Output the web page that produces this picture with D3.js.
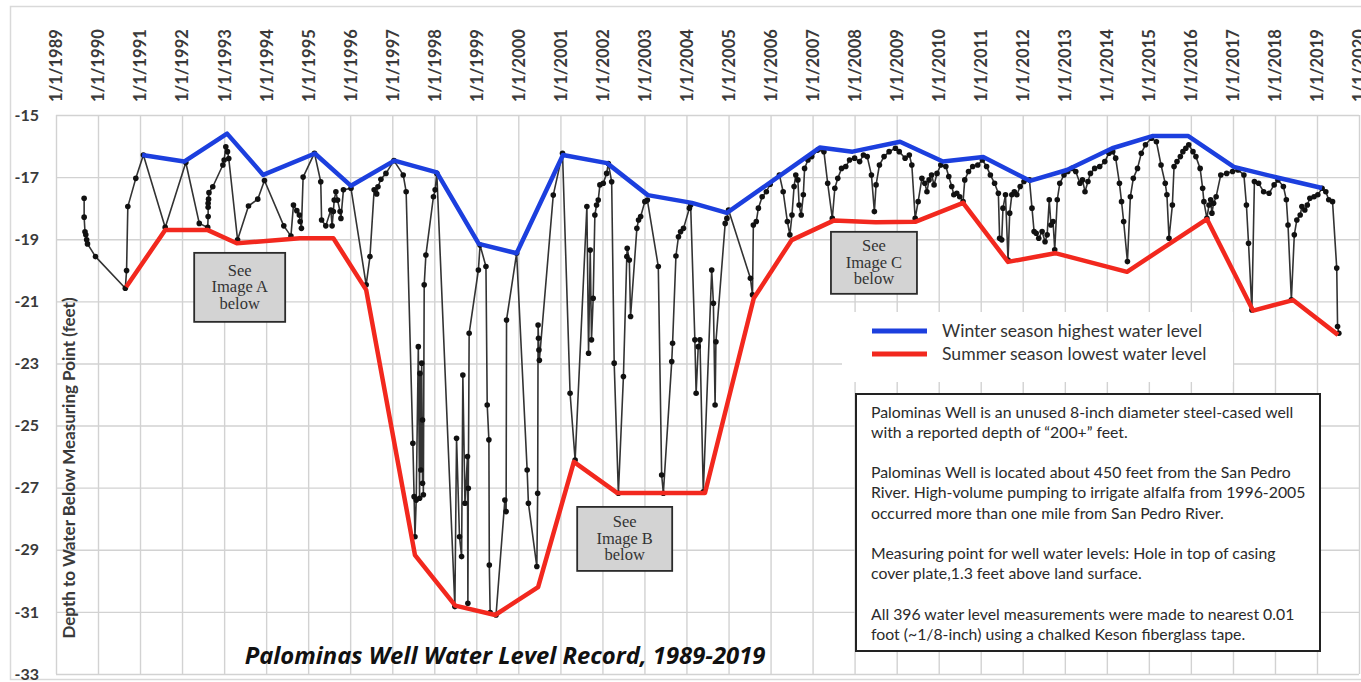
<!DOCTYPE html>
<html>
<head>
<meta charset="utf-8">
<script src="https://cdnjs.cloudflare.com/ajax/libs/d3/7.8.5/d3.min.js"></script>
<style>
  html, body { margin: 0; padding: 0; background: #fff; }
  svg { display: block; }
</style>
</head>
<body>
<svg id="chart" width="1361" height="682"></svg>
<script>
// ---------------- DATA ----------------
const tickYears = [1989,1990,1991,1992,1993,1994,1995,1996,1997,1998,1999,2000,2001,2002,2003,2004,2005,2006,2007,2008,2009,2010,2011,2012,2013,2014,2015,2016,2017,2018,2019,2020];
const depthTicks = [-15,-17,-19,-21,-23,-25,-27,-29,-31,-33];

// measured water levels (decimal year, feet)
const measYears = [
 1989.67,1989.67,1989.69,1989.71,1989.73,1989.75,1989.94,1990.65,1990.68,1990.71,1990.90,1991.08,1991.60,1992.09,1992.41,1992.61,1992.62,1992.62,1992.62,1992.63,1992.64,1992.73,1992.97,1993.00,1993.04,1993.08,1993.11,1993.32,1993.58,1993.80,1993.96,1994.42,1994.59,1994.65,1994.73,1994.79,1994.81,1994.84,1994.88,1995.15,1995.30,1995.32,1995.42,1995.54,1995.57,1995.60,1995.62,1995.66,1995.70,1995.76,1995.78,1995.84,1996.02,1996.38,1996.47,1996.57,1996.63,1996.66,1996.73,1996.85,1997.04,
 1997.26,1997.33,1997.49,1997.52,1997.54,1997.57,1997.62,1997.65,1997.66,1997.68,1997.70,1997.72,1997.72,1997.74,1997.76,1997.80,1997.98,1998.02,1998.06,1998.49,1998.53,1998.60,1998.65,1998.68,1998.73,1998.79,1998.80,1998.81,1998.83,1999.05,1999.09,1999.23,1999.26,1999.30,1999.31,1999.33,1999.47,1999.68,1999.71,1999.72,1999.96,2000.21,2000.24,2000.44,2000.46,2000.47,2000.48,2000.49,2000.50,2000.83,2001.05,2001.23,2001.35,2001.63,2001.67,2001.71,2001.74,2001.78,2001.82,2001.86,2001.90,2001.94,2002.02,2002.10,2002.14,2002.22,2002.28,2002.38,2002.50,2002.58,2002.59,2002.64,2002.67,2002.82,2002.86,2002.91,2003.01,2003.07,2003.33,2003.41,2003.45,2003.65,2003.67,2003.75,2003.81,2003.86,2003.93,2004.07,2004.10,2004.20,2004.23,2004.28,2004.32,2004.40,2004.60,2004.64,2004.68,2004.70,2004.92,2004.96,2005.00,
 2005.52,2005.57,2005.59,2005.66,2005.71,2005.80,2005.90,2005.99,
 2006.21,2006.30,2006.40,2006.46,2006.51,2006.56,2006.60,2006.65,2006.68,2006.73,2006.78,2006.81,2006.89,2006.98,
 2007.12,2007.27,2007.36,2007.47,2007.53,2007.60,2007.69,2007.79,2007.88,
 2008.00,2008.12,2008.21,2008.30,2008.40,2008.47,2008.51,2008.59,2008.70,2008.82,2008.97,
 2009.06,2009.20,2009.30,2009.36,2009.44,2009.51,2009.60,2009.67,2009.72,2009.77,2009.83,2009.89,2009.96,
 2010.05,2010.17,2010.24,2010.31,2010.36,2010.43,2010.50,2010.58,2010.62,2010.71,2010.81,2010.93,
 2011.04,2011.14,2011.23,2011.33,2011.42,2011.45,2011.50,2011.53,2011.59,2011.65,2011.69,2011.74,2011.80,2011.86,2011.94,
 2012.03,2012.16,2012.22,2012.27,2012.32,2012.38,2012.46,2012.53,2012.58,2012.63,2012.67,2012.72,2012.76,2012.82,2012.88,2012.98,
 2013.07,2013.17,2013.26,2013.36,2013.42,2013.48,2013.55,2013.61,2013.71,2013.83,2013.95,
 2014.05,2014.14,2014.21,2014.30,2014.35,2014.40,2014.49,2014.56,2014.63,2014.73,2014.82,2014.92,
 2015.06,2015.18,2015.29,2015.39,2015.43,2015.48,2015.56,2015.60,2015.67,2015.75,2015.81,2015.88,2015.95,
 2016.05,2016.12,2016.22,2016.28,2016.31,2016.38,2016.43,2016.47,2016.50,2016.54,2016.60,2016.71,2016.85,2016.99,
 2017.12,2017.26,2017.32,2017.37,2017.45,2017.51,2017.61,2017.73,2017.86,2017.98,
 2018.07,2018.20,2018.27,2018.31,2018.39,2018.46,2018.52,2018.60,2018.64,2018.71,2018.77,2018.83,2018.93,
 2019.02,2019.12,2019.21,2019.28,2019.37,2019.47,2019.49,2019.52
];
const measDepths = [
 -17.68,-18.29,-18.76,-18.86,-19.02,-19.15,-19.56,-20.58,-20.01,-17.95,-17.04,-16.29,-18.62,-16.53,-18.49,-18.62,-18.27,-17.97,-17.84,-17.71,-17.50,-17.31,-16.61,-16.45,-16.02,-16.18,-16.40,-19.02,-17.93,-17.71,-17.11,-18.57,-18.90,-17.90,-18.08,-18.22,-18.43,-18.65,-17.00,-16.23,-17.15,-18.38,-18.57,-18.06,-18.57,-18.11,-17.74,-17.47,-17.74,-18.11,-18.33,-17.41,-17.36,-20.47,-19.56,-17.41,-17.54,-17.31,-17.07,-16.88,-16.47,
 -16.93,-17.47,-25.57,-27.29,-28.58,-27.40,-22.46,-27.34,-23.32,-26.43,-22.99,-26.86,-24.82,-27.23,-20.47,-19.51,-17.63,-17.41,-16.88,-30.83,-25.41,-28.58,-29.22,-23.37,-27.50,-26.00,-30.72,-27.02,-22.03,-19.99,-19.19,-19.88,-24.34,-25.46,-29.49,-31.02,-31.10,-27.40,-27.77,-21.60,-19.45,-26.43,-27.50,-29.54,-27.18,-21.76,-22.19,-22.57,-22.90,-17.58,-16.23,-23.96,-26.11,-17.95,-22.67,-19.35,-22.24,-20.90,-18.22,-17.90,-17.74,-17.25,-17.20,-16.88,-16.56,-17.15,-22.99,-27.18,-23.42,-19.56,-19.29,-19.67,-21.49,-18.65,-18.38,-18.27,-17.79,-17.74,-19.88,-26.59,-27.18,-22.94,-22.35,-19.54,-18.92,-18.76,-18.65,-18.00,-17.90,-22.24,-23.96,-22.46,-22.24,-27.13,-19.99,-21.06,-24.34,-22.30,-18.49,-18.33,-18.06,
 -20.26,-20.79,-18.54,-18.43,-18.00,-17.63,-17.47,-17.23,
 -16.93,-17.47,-18.43,-18.86,-18.22,-17.30,-16.93,-17.09,-17.90,-18.22,-17.57,-16.72,-16.45,-16.34,
 -16.13,-16.18,-17.20,-18.33,-17.36,-17.04,-16.72,-16.66,-16.45,
 -16.39,-16.50,-16.29,-16.34,-16.93,-18.11,-17.25,-16.61,-16.34,-16.18,-16.07,
 -16.18,-16.39,-16.29,-16.61,-18.33,-17.79,-17.04,-17.20,-17.47,-17.09,-16.93,-17.25,-16.88,
 -16.61,-16.66,-16.98,-17.30,-17.57,-17.52,-17.63,-17.79,-17.09,-16.82,-16.66,-16.61,
 -16.45,-16.66,-16.93,-17.20,-17.52,-18.97,-19.02,-18.00,-17.57,-19.67,-18.16,-17.57,-17.47,-17.57,-17.30,
 -17.14,-17.09,-18.00,-18.75,-18.81,-18.97,-18.75,-19.08,-18.86,-17.73,-18.54,-18.43,-19.34,-17.73,-17.20,-16.93,
 -16.82,-16.72,-16.82,-17.20,-17.09,-17.47,-17.14,-16.88,-16.72,-16.66,-16.50,
 -16.23,-16.18,-16.39,-17.20,-17.79,-18.43,-19.72,-17.63,-17.04,-16.72,-16.23,-15.96,
 -15.75,-15.86,-16.61,-17.20,-17.57,-18.97,-17.90,-16.66,-16.50,-16.34,-16.18,-16.07,-15.96,
 -16.18,-16.34,-16.72,-17.36,-17.79,-18.33,-17.90,-17.73,-18.16,-17.84,-17.63,-16.93,-16.88,-16.82,
 -16.77,-16.93,-17.90,-19.13,-21.28,-17.14,-17.20,-17.47,-17.52,-17.25,
 -17.09,-17.30,-17.73,-18.54,-20.95,-18.86,-18.38,-18.22,-17.95,-18.06,-17.90,-17.68,-17.63,
 -17.57,-17.36,-17.47,-17.73,-17.79,-19.93,-21.81,-22.03
];

// winter season highest water level
const winterYears  = [1991.05,1992.05,1993.07,1993.93,1995.16,1996.02,1997.05,1998.06,1999.06,1999.96,2001.06,2002.11,2003.08,2004.13,2004.96,2007.17,2007.95,2009.08,2010.10,2011.06,2012.17,2013.05,2014.13,2015.08,2015.94,2017.02,2018.10,2019.12];
const winterDepths = [-16.29,-16.50,-15.60,-16.93,-16.24,-17.28,-16.47,-16.85,-19.15,-19.45,-16.29,-16.55,-17.58,-17.83,-18.15,-16.05,-16.18,-15.86,-16.50,-16.35,-17.12,-16.77,-16.07,-15.68,-15.68,-16.67,-17.03,-17.35];

// summer season lowest water level
const summerYears  = [1990.67,1991.60,1992.60,1993.30,1994.80,1995.60,1996.38,1997.54,1998.50,1999.45,2000.47,2001.32,2002.35,2003.45,2004.44,2005.60,2006.50,2007.50,2008.50,2009.44,2010.58,2011.65,2012.77,2014.48,2016.38,2017.48,2018.43,2019.50];
const summerDepths = [-20.54,-18.70,-18.70,-19.13,-18.97,-18.97,-20.63,-29.17,-30.80,-31.10,-30.20,-26.17,-27.17,-27.17,-27.17,-20.90,-19.03,-18.40,-18.45,-18.44,-17.83,-19.73,-19.45,-20.05,-18.35,-21.30,-20.96,-22.08];

const legendLabels = ["Winter season highest water level","Summer season lowest water level"];
const chartTitle = "Palominas Well Water Level Record, 1989-2019";
const yTitle = "Depth to Water Below Measuring Point (feet)";
const noteLines = [
 "Palominas Well is an unused 8-inch diameter steel-cased well",
 "with a reported depth of \u201C200+\u201D feet.",
 "",
 "Palominas Well is located about 450 feet from the San Pedro",
 "River. High-volume pumping to irrigate alfalfa from 1996-2005",
 "occurred more than one mile from San Pedro River.",
 "",
 "Measuring point for well water levels: Hole in top of casing",
 "cover plate,1.3 feet above land surface.",
 "",
 "All 396 water level measurements were made to nearest 0.01",
 "foot (~1/8-inch) using a chalked Keson fiberglass tape."
];
const calloutTexts = [["See","Image A","below"],["See","Image B","below"],["See","Image C","below"]];

// ---------------- DRAWING ----------------
const svg = d3.select("#chart");
const W = 1361;
const pL = 56, pR = 1359, pT = 115, pB = 674;
const FONT = "Lato, 'Open Sans', sans-serif";

function toDate(dy){
  const yr = Math.floor(dy);
  const start = new Date(yr,0,1), end = new Date(yr+1,0,1);
  return new Date(start.getTime() + (dy - yr) * (end - start));
}

const x = d3.scaleTime().domain([new Date(1989,0,1), new Date(2020,0,1)]).range([pL, pR]);
const y = d3.scaleLinear().domain([-33,-15]).range([pB, pT]);

// outer frame
svg.append("rect").attr("x",10.5).attr("y",6.5).attr("width",W).attr("height",673)
  .attr("fill","#fff").attr("stroke","#d9d9d9").attr("stroke-width",1.5);

const gridColor = "#d2d2d2";
svg.append("g").attr("transform",`translate(0,${pB})`)
  .call(d3.axisBottom(x).tickValues(tickYears.map(v=>new Date(v,0,1))).tickSize(-(pB-pT)).tickFormat(""))
  .call(g=>g.select(".domain").remove())
  .call(g=>g.selectAll("line").attr("stroke",gridColor).attr("stroke-width",1.4));
svg.append("g").attr("transform",`translate(${pL},0)`)
  .call(d3.axisLeft(y).tickValues(depthTicks).tickSize(-(pR-pL)).tickFormat(""))
  .call(g=>g.select(".domain").remove())
  .call(g=>g.selectAll("line").attr("stroke",gridColor).attr("stroke-width",1.4));

// top date labels
const xa = svg.append("g").attr("transform","translate(0,102)")
  .call(d3.axisTop(x).tickValues(tickYears.map(v=>new Date(v,0,1))).tickSize(0).tickPadding(0)
    .tickFormat(d3.timeFormat("%-m/%-d/%Y")));
xa.select(".domain").remove();
xa.selectAll("text")
  .attr("transform","rotate(-90)")
  .attr("x",0).attr("y",0).attr("dy","0.36em")
  .attr("text-anchor","start")
  .attr("fill","#3a3a3a")
  .style("font-family",FONT)
  .style("font-weight","700").style("font-size","16.5px");

// left depth labels
const ya = svg.append("g").attr("transform","translate(39,0)")
  .call(d3.axisLeft(y).tickValues(depthTicks).tickSize(0).tickPadding(0).tickFormat(d=>String(d)));
ya.select(".domain").remove();
ya.selectAll("text").attr("fill","#3a3a3a")
  .style("font-family",FONT)
  .style("font-weight","700").style("font-size","16px");

// y title
svg.append("text").attr("transform","translate(69,468) rotate(-90)")
  .attr("text-anchor","middle").attr("dy","0.35em")
  .attr("fill","#3a3a3a")
  .style("font-family",FONT)
  .style("font-weight","700").style("font-size","17px")
  .text(yTitle);

// callout boxes (layout: centre year, centre depth, width, height)
const calloutLayout = [
  {year:1993.37, depth:-20.55, w:91, h:69},
  {year:2002.53, depth:-28.65, w:95, h:64},
  {year:2008.46, depth:-19.76, w:86, h:62}
];
calloutTexts.forEach((lines,k)=>{
  const c = calloutLayout[k];
  const cx = x(toDate(c.year)), cy = y(c.depth);
  svg.append("rect").attr("x",cx-c.w/2).attr("y",cy-c.h/2).attr("width",c.w).attr("height",c.h)
    .attr("fill","#d3d3d3").attr("stroke","#2b2b2b").attr("stroke-width",1.8);
  lines.forEach((t,i)=>{
    svg.append("text").attr("x",cx).attr("y",cy-1+(i-1)*16.5).attr("dy","0.35em")
      .attr("text-anchor","middle").attr("fill","#333")
      .style("font-family","'Liberation Serif', 'DejaVu Serif', serif").style("font-size","16.5px")
      .text(t);
  });
});

// measurement series
const n = Math.min(measYears.length, measDepths.length);
const meas = d3.range(n).map(i=>({d:toDate(measYears[i]), v:measDepths[i]}));
const line = d3.line().x(p=>x(p.d)).y(p=>y(p.v));
svg.append("path").datum(meas).attr("d",line).attr("fill","none")
  .attr("stroke","#333").attr("stroke-width",1.6).attr("stroke-linejoin","round");
svg.append("g").selectAll("circle").data(meas).join("circle")
  .attr("cx",p=>x(p.d)).attr("cy",p=>y(p.v)).attr("r",2.8).attr("fill","#111");

const blue = "#1c3fde", red = "#f2281e";
const winter = winterYears.map((v,i)=>({d:toDate(v), v:winterDepths[i]}));
const summer = summerYears.map((v,i)=>({d:toDate(v), v:summerDepths[i]}));
svg.append("path").datum(summer).attr("d",line).attr("fill","none")
  .attr("stroke",red).attr("stroke-width",4.5).attr("stroke-linejoin","round");
svg.append("path").datum(winter).attr("d",line).attr("fill","none")
  .attr("stroke",blue).attr("stroke-width",4.5).attr("stroke-linejoin","round");

// legend
const lg = svg.append("g");
lg.append("rect").attr("x",842).attr("y",312).attr("width",391).attr("height",70).attr("fill","#fff");
[[blue,331],[red,354]].forEach(([c,ly],i)=>{
  lg.append("line").attr("x1",872).attr("x2",927).attr("y1",ly).attr("y2",ly)
    .attr("stroke",c).attr("stroke-width",5);
  lg.append("text").attr("x",942).attr("y",ly).attr("dy","0.35em").attr("fill","#333")
    .style("font-family",FONT).style("font-size","17.6px")
    .text(legendLabels[i]);
});

// notes box
svg.append("rect").attr("x",856).attr("y",394).attr("width",464).attr("height",257)
  .attr("fill","#fff").attr("stroke","#222").attr("stroke-width",2);
noteLines.forEach((t,i)=>{
  if(!t) return;
  svg.append("text").attr("x",871).attr("y",412 + i*20.2).attr("dy","0.35em").attr("fill","#2a2a2a")
    .style("font-family",FONT).style("font-size","15.8px")
    .text(t);
});

// chart title
svg.append("text").attr("x",505).attr("y",664).attr("text-anchor","middle").attr("fill","#111")
  .style("font-family","'Open Sans', Lato, sans-serif").style("font-weight","700")
  .style("font-style","italic").style("font-size","23.8px")
  .text(chartTitle);
</script>
</body>
</html>
